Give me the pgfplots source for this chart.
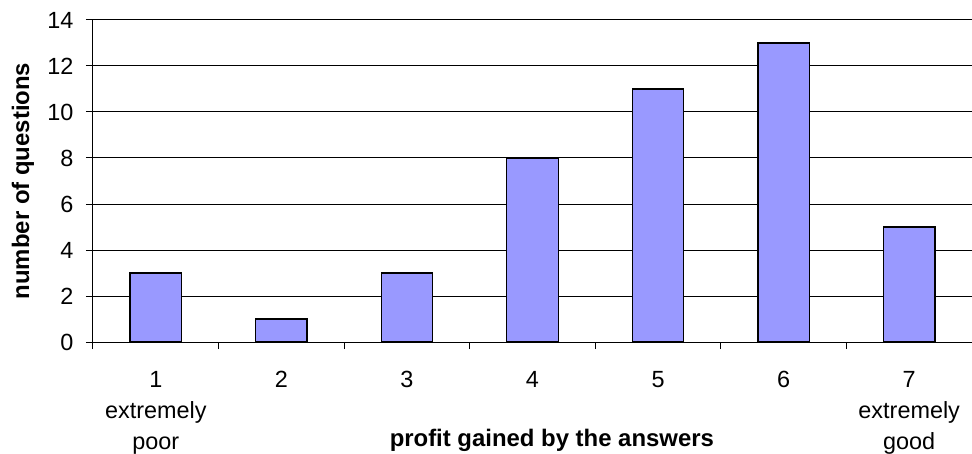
\documentclass[border=0pt]{standalone}
\usepackage{pgfplots}
\pgfplotsset{compat=1.18}
\usepackage{fontspec}
\setmainfont{Liberation Sans}

\definecolor{barblue}{HTML}{9999FF}

\begin{document}
\begin{tikzpicture}
\begin{axis}[
    scale only axis,
    width=879bp, height=322bp,
    xmin=0.5, xmax=7.5,
    ymin=0, ymax=14,
    axis lines=left,
    axis line style={-, line width=1bp},
    tick align=outside,
    major tick length=7bp,
    tick style={black, line width=1bp},
    xtick={0.5,1.5,...,7.5},
    xticklabels={},
    extra x ticks={1,2,3,4,5,6,7},
    extra x tick labels={{1\\extremely\\poor},{2},{3},{4},{5},{6},{7\\extremely\\good}},
    extra x tick style={major tick length=0pt, grid=none,
        tick label style={align=center, anchor=north, yshift=-26bp}},
    ytick={0,2,...,14},
    ymajorgrids,
    grid style={black, line width=1bp},
    /pgf/number format/assume math mode=true,
    tick label style={font=\fontsize{23.5}{31}\selectfont},
    yticklabel style={xshift=-9bp},
    xlabel={\textbf{profit gained by the answers}},
    xlabel style={font=\fontsize{24}{30}\selectfont, anchor=base,
        at={(axis description cs:0.522,-0.326)}},
    ylabel={\textbf{number of questions}},
    ylabel style={font=\fontsize{24}{30}\selectfont, rotate=0, anchor=center,
        at={(axis description cs:-0.0796,0.5)}},
    ybar,
    bar width=0.41,
]
\addplot[draw=black, fill=barblue, line width=1.3bp] coordinates {
    (1,3) (2,1) (3,3) (4,8) (5,11) (6,13) (7,5)
};
\end{axis}
\pgfresetboundingbox
\path[use as bounding box] (-93bp,-112bp) rectangle (879bp,342bp);
\end{tikzpicture}
\end{document}
